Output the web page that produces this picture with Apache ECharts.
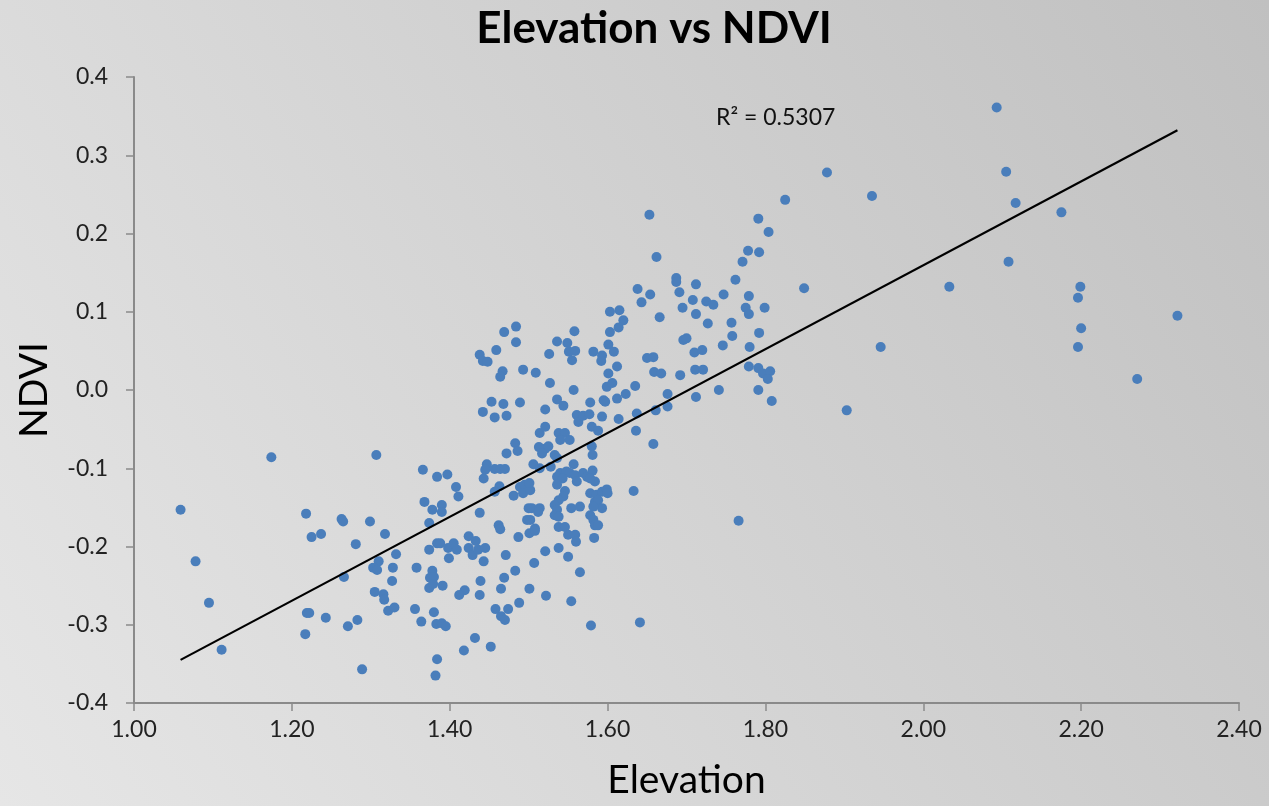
<!DOCTYPE html>
<html>
<head>
<meta charset="utf-8">
<title>Elevation vs NDVI</title>
<script src="https://cdn.jsdelivr.net/npm/echarts@6.0.0/dist/echarts.min.js"></script>
<style>
  html, body { margin: 0; padding: 0; }
  #chart { width: 1269px; height: 806px; }
</style>
</head>
<body>
<div id="chart"></div>
<script>
// values
const elevation = [
  // low elevation tail
  1.174, 1.307, 1.366, 1.384, 1.059, 1.218, 1.368, 1.378, 1.263, 1.265,
  1.299, 1.374, 1.225, 1.237, 1.318, 1.281, 1.384, 1.374, 1.332, 1.078,
  1.310, 1.303, 1.308, 1.328, 1.358, 1.378, 1.375, 1.380, 1.374, 1.379,
  1.266, 1.327, 1.305, 1.316, 1.317, 1.095, 1.219, 1.222, 1.243, 1.271,
  1.283, 1.322, 1.330, 1.356, 1.364, 1.380, 1.383, 1.217, 1.111, 1.289,
  1.384, 1.382,
  // upper middle cluster
  1.603, 1.615, 1.484, 1.469, 1.558, 1.603, 1.484, 1.536, 1.549, 1.601,
  1.608, 1.459, 1.438, 1.442, 1.448, 1.526, 1.551, 1.559, 1.555, 1.582,
  1.593, 1.592, 1.612, 1.493, 1.467, 1.464, 1.509, 1.601,
  1.453, 1.468, 1.489, 1.442, 1.457, 1.472, 1.514,
  1.527, 1.557, 1.599, 1.606, 1.536, 1.544, 1.578, 1.595, 1.597, 1.612,
  1.521, 1.561, 1.563, 1.569, 1.577, 1.593, 1.614, 1.521, 1.580, 1.588,
  1.538, 1.546, 1.540, 1.552,
  // lower middle cluster
  1.483, 1.486, 1.472, 1.447, 1.445, 1.457, 1.464, 1.470, 1.443, 1.397,
  1.408, 1.411, 1.463, 1.457, 1.489, 1.495, 1.493, 1.502, 1.501, 1.481,
  1.390, 1.390, 1.438, 1.500, 1.498, 1.462, 1.464,
  1.513, 1.521, 1.525, 1.517, 1.533, 1.536, 1.580, 1.581, 1.506, 1.514,
  1.528, 1.557, 1.540, 1.548, 1.552, 1.536, 1.543, 1.559, 1.561, 1.536,
  1.569, 1.574, 1.581, 1.584, 1.578, 1.546, 1.544, 1.538, 1.533, 1.536,
  1.533, 1.538, 1.578, 1.586, 1.593, 1.599, 1.600, 1.584, 1.588, 1.593,
  1.582, 1.554, 1.565, 1.504, 1.514, 1.512, 1.502, 1.578, 1.582, 1.584,
  1.588, 1.508, 1.538, 1.546,
  1.501, 1.508, 1.487, 1.550, 1.559, 1.560, 1.583, 1.388, 1.398, 1.405,
  1.409, 1.399, 1.424, 1.433, 1.424, 1.429, 1.436, 1.445, 1.443, 1.471,
  1.521, 1.507, 1.538, 1.550, 1.565, 1.483, 1.469, 1.439, 1.465, 1.501,
  1.522, 1.391, 1.419, 1.412, 1.438, 1.488, 1.458, 1.474, 1.465, 1.470,
  1.554, 1.390, 1.395, 1.579, 1.432, 1.418, 1.452,
  // 1.6 - 1.85
  1.825, 1.653, 1.791, 1.804, 1.778, 1.792, 1.771, 1.662, 1.687, 1.687,
  1.762, 1.712, 1.638, 1.654, 1.643, 1.691, 1.747, 1.779, 1.708, 1.725,
  1.734, 1.695, 1.712, 1.775, 1.779, 1.799, 1.849, 1.666, 1.620, 1.614,
  1.727, 1.757, 1.792, 1.758, 1.696, 1.700, 1.746, 1.780, 1.710, 1.720,
  1.650, 1.658, 1.659, 1.668, 1.711, 1.721, 1.692, 1.779, 1.791, 1.797,
  1.806, 1.803, 1.635, 1.623, 1.676, 1.676, 1.661, 1.712, 1.741, 1.791,
  1.808, 1.637,
  1.636, 1.658, 1.633, 1.766, 1.641,
  // high elevation
  2.093, 1.878, 2.105, 1.935, 2.117, 2.175, 2.108, 2.033, 2.199, 2.196,
  2.322, 2.200, 1.946, 2.196, 2.271, 1.903
];

const ndvi = [
  -0.086, -0.083, -0.102, -0.111, -0.153, -0.158, -0.143, -0.153, -0.165, -0.168,
  -0.168, -0.170, -0.188, -0.184, -0.184, -0.197, -0.196, -0.204, -0.210, -0.219,
  -0.219, -0.227, -0.230, -0.227, -0.227, -0.231, -0.240, -0.239, -0.253, -0.248,
  -0.239, -0.244, -0.258, -0.261, -0.268, -0.272, -0.285, -0.285, -0.291, -0.302,
  -0.294, -0.282, -0.278, -0.280, -0.296, -0.284, -0.299, -0.312, -0.332, -0.357,
  -0.344, -0.365,
  0.100, 0.102, 0.081, 0.074, 0.075, 0.074, 0.061, 0.062, 0.060, 0.058,
  0.049, 0.051, 0.045, 0.037, 0.036, 0.046, 0.049, 0.050, 0.038, 0.049,
  0.044, 0.037, 0.030, 0.026, 0.024, 0.017, 0.022, 0.021,
  -0.015, -0.018, -0.016, -0.028, -0.035, -0.033, -0.055,
  0.009, 0.000, 0.004, 0.009, -0.012, -0.020, -0.016, -0.013, -0.015, -0.011,
  -0.025, -0.032, -0.041, -0.033, -0.031, -0.034, -0.037, -0.047, -0.047, -0.052,
  -0.055, -0.055, -0.064, -0.064,
  -0.068, -0.078, -0.081, -0.095, -0.102, -0.101, -0.101, -0.101, -0.113, -0.108,
  -0.124, -0.136, -0.123, -0.130, -0.124, -0.121, -0.132, -0.128, -0.119, -0.135,
  -0.147, -0.156, -0.157, -0.151, -0.166, -0.173, -0.178,
  -0.073, -0.075, -0.072, -0.081, -0.083, -0.087, -0.072, -0.083, -0.095, -0.100,
  -0.098, -0.095, -0.106, -0.104, -0.106, -0.111, -0.113, -0.109, -0.117, -0.121,
  -0.106, -0.111, -0.103, -0.117, -0.113, -0.129, -0.136, -0.141, -0.147, -0.153,
  -0.160, -0.162, -0.132, -0.134, -0.130, -0.127, -0.132, -0.143, -0.141, -0.151,
  -0.149, -0.151, -0.149, -0.151, -0.151, -0.156, -0.166, -0.160, -0.166, -0.173,
  -0.173, -0.177, -0.175, -0.175,
  -0.183, -0.180, -0.188, -0.185, -0.185, -0.194, -0.189, -0.196, -0.202, -0.196,
  -0.204, -0.215, -0.187, -0.193, -0.202, -0.211, -0.204, -0.202, -0.219, -0.211,
  -0.206, -0.221, -0.202, -0.213, -0.233, -0.231, -0.240, -0.244, -0.254, -0.254,
  -0.263, -0.250, -0.256, -0.262, -0.262, -0.272, -0.280, -0.280, -0.289, -0.294,
  -0.270, -0.298, -0.302, -0.301, -0.317, -0.333, -0.328,
  0.243, 0.224, 0.219, 0.202, 0.178, 0.176, 0.164, 0.170, 0.143, 0.138,
  0.141, 0.135, 0.129, 0.122, 0.112, 0.125, 0.122, 0.120, 0.115, 0.113,
  0.109, 0.105, 0.097, 0.105, 0.097, 0.105, 0.130, 0.093, 0.089, 0.080,
  0.085, 0.086, 0.073, 0.069, 0.064, 0.066, 0.057, 0.055, 0.048, 0.051,
  0.041, 0.042, 0.023, 0.021, 0.026, 0.026, 0.019, 0.030, 0.028, 0.021,
  0.024, 0.014, 0.005, -0.005, -0.005, -0.021, -0.026, -0.009, 0.000, 0.000,
  -0.014, -0.030,
  -0.052, -0.069, -0.129, -0.167, -0.297,
  0.361, 0.278, 0.279, 0.248, 0.239, 0.227, 0.164, 0.132, 0.132, 0.118,
  0.095, 0.079, 0.055, 0.055, 0.014, -0.026
];

const xTicks = { min: 1.0, max: 2.4, step: 0.2 };
const yTicks = { min: -0.4, max: 0.4, step: 0.1 };
const r2Label = 'R² = 0.5307';

// least squares trend line, like the spreadsheet's linear trendline
function linearFit(xs, ys) {
  const n = xs.length;
  const mx = xs.reduce((a, b) => a + b, 0) / n;
  const my = ys.reduce((a, b) => a + b, 0) / n;
  let sxy = 0, sxx = 0;
  for (let i = 0; i < n; i++) {
    sxy += (xs[i] - mx) * (ys[i] - my);
    sxx += (xs[i] - mx) * (xs[i] - mx);
  }
  const slope = sxy / sxx;
  return { slope, intercept: my - slope * mx };
}

const points = elevation.map((x, i) => [x, ndvi[i]]);
const fit = linearFit(elevation, ndvi);
const xLo = Math.min(...elevation);
const xHi = Math.max(...elevation);
const trend = [
  [xLo, fit.intercept + fit.slope * xLo],
  [xHi, fit.intercept + fit.slope * xHi]
];

const font = 'Lato, "Open Sans", sans-serif';
const chart = echarts.init(document.getElementById('chart'));

chart.setOption({
  animation: false,
  backgroundColor: new echarts.graphic.LinearGradient(0, 1, 1, 0, [
    { offset: 0, color: '#e6e6e6' },
    { offset: 1, color: '#c0c0c0' }
  ]),
  title: {
    text: 'Elevation vs NDVI',
    left: 649,
    textAlign: 'center',
    top: 2,
    textStyle: { fontFamily: font, fontSize: 44, fontWeight: 'bold', color: '#000' }
  },
  grid: { left: 134, right: 30, top: 77, bottom: 103 },
  xAxis: {
    type: 'value',
    min: xTicks.min,
    max: xTicks.max,
    interval: xTicks.step,
    name: 'Elevation',
    nameLocation: 'middle',
    nameGap: 58,
    nameTextStyle: { fontFamily: font, fontSize: 39, color: '#000' },
    axisLine: { onZero: false, lineStyle: { color: '#8a8a8a', width: 2 } },
    axisTick: { length: 8, lineStyle: { color: '#8a8a8a', width: 1.5 } },
    axisLabel: {
      fontFamily: font, fontSize: 23, color: '#222', margin: 15,
      formatter: v => v.toFixed(2)
    },
    splitLine: { show: false }
  },
  yAxis: {
    type: 'value',
    min: yTicks.min,
    max: yTicks.max,
    interval: yTicks.step,
    name: 'NDVI',
    nameLocation: 'middle',
    nameGap: 80,
    nameTextStyle: { fontFamily: font, fontSize: 39, color: '#000' },
    axisLine: { show: true, onZero: false, lineStyle: { color: '#8a8a8a', width: 2 } },
    axisTick: { show: true, length: 8, lineStyle: { color: '#8a8a8a', width: 1.5 } },
    axisLabel: {
      fontFamily: font, fontSize: 23, color: '#222', margin: 26,
      formatter: v => v.toFixed(1)
    },
    splitLine: { show: false }
  },
  series: [
    {
      type: 'scatter',
      data: points,
      symbolSize: 10,
      itemStyle: { color: '#4a7ebb', opacity: 1 }
    },
    {
      type: 'line',
      data: trend,
      showSymbol: false,
      lineStyle: { color: '#000', width: 2.2 },
      z: 3
    }
  ],
  graphic: [
    {
      type: 'text',
      left: 716,
      top: 106,
      style: { text: r2Label, fontFamily: font, fontSize: 23, fill: '#111' }
    }
  ]
});
</script>
</body>
</html>
